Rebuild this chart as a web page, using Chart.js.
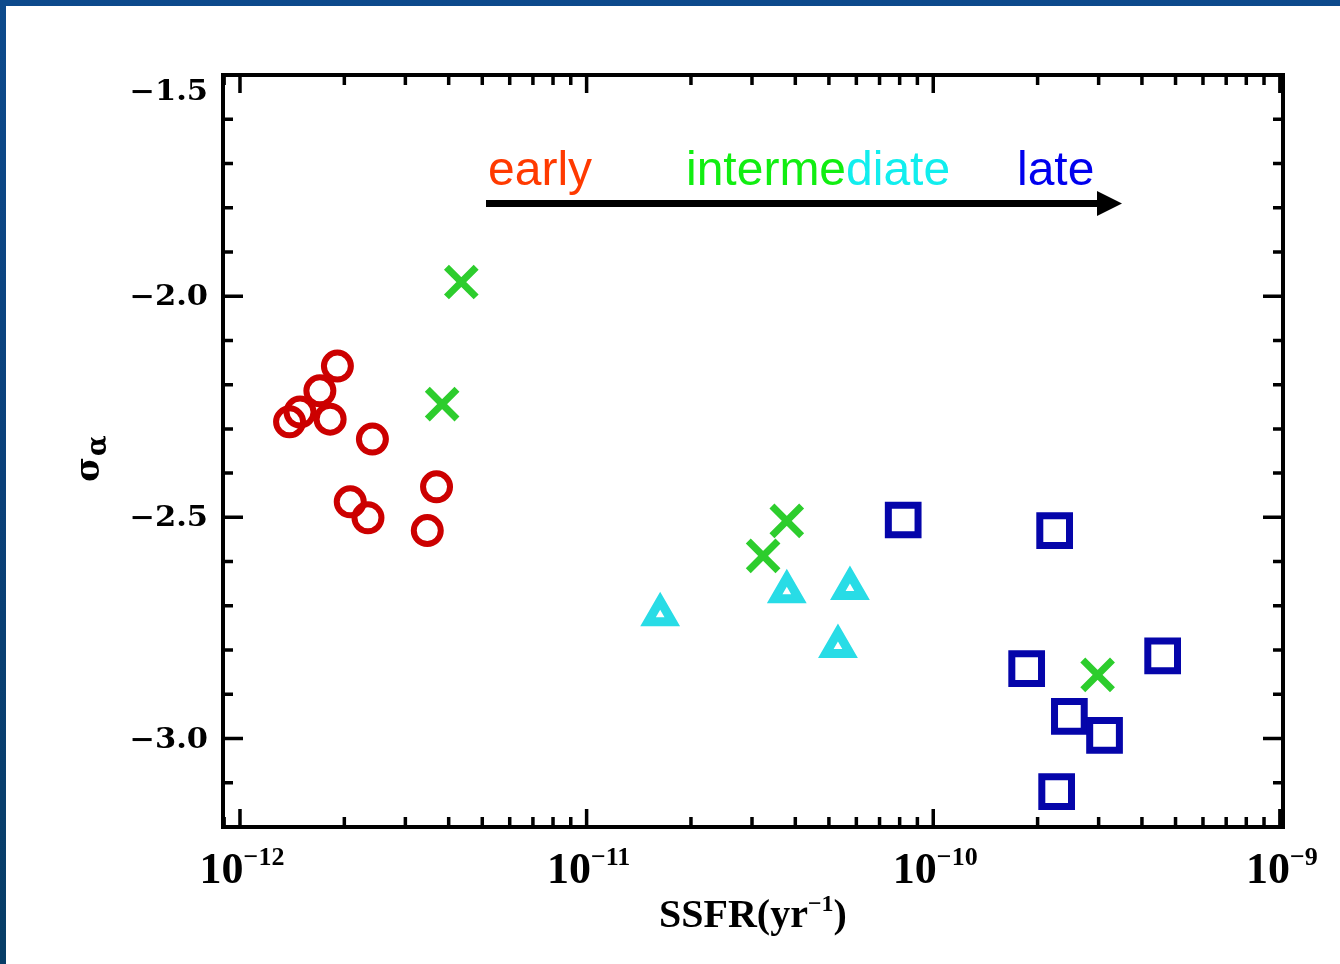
<!DOCTYPE html>
<html><head><meta charset="utf-8">
<script src="https://cdn.jsdelivr.net/npm/chart.js@4.4.1/dist/chart.umd.min.js"></script>
<style>
html,body{margin:0;padding:0;width:1340px;height:964px;overflow:hidden;}
body{background:linear-gradient(180deg,#0d4a8c 0%,#0a4079 50%,#073d66 100%);position:relative;}
#panel{position:absolute;left:6px;top:6px;right:0;bottom:0;background:#fff;}
#c{position:absolute;left:0;top:0;}
</style></head><body><div id="panel"></div><canvas id="c" width="1340" height="964"></canvas>
<script>
// ---- data ----
const earlySSFR  = [1.91e-12,1.70e-12,1.39e-12,1.49e-12,1.82e-12,2.41e-12,2.08e-12,2.34e-12,3.69e-12,3.47e-12];
const earlySigma = [-2.158,-2.214,-2.284,-2.262,-2.278,-2.323,-2.465,-2.501,-2.431,-2.530];
const interXSSFR  = [4.35e-12,3.83e-12,3.78e-11,3.23e-11,2.98e-10];
const interXSigma = [-1.968,-2.244,-2.508,-2.587,-2.856];
const interTriSSFR  = [1.63e-11,3.78e-11,5.75e-11,5.31e-11];
const interTriSigma = [-2.720,-2.668,-2.661,-2.792];
const lateSSFR  = [8.19e-11,2.24e-10,1.86e-10,4.59e-10,2.47e-10,3.12e-10,2.27e-10];
const lateSigma = [-2.506,-2.530,-2.842,-2.813,-2.950,-2.993,-3.120];

const xDecades = [-12,-11,-10,-9];              // labelled decades
const xMin = Math.pow(10,-12.049), xMax = Math.pow(10,-8.991);
const yMin = -3.2, yMax = -1.5, yStep = 0.1;
const yLabels = [-1.5,-2.0,-2.5,-3.0];

const pts = (xs, ys) => xs.map((x,i)=>({x:x, y:ys[i]}));

const framePlugin = {
  id:'frame',
  beforeDatasetsDraw(chart){
    const {ctx, chartArea:a, scales:{x, y}} = chart;
    ctx.save();
    ctx.strokeStyle='#000';
    ctx.lineWidth=4;
    ctx.strokeRect(a.left, a.top, a.right-a.left, a.bottom-a.top);
    ctx.lineWidth=3.5;
    ctx.beginPath();
    const n = Math.round((yMax-yMin)/yStep);
    for(let k=0;k<=n;k++){
      const v = yMin + k*yStep;
      const major = Math.abs(v*2 - Math.round(v*2))<1e-6;
      const py = y.getPixelForValue(v);
      const len = major?20:10;
      ctx.moveTo(a.left, py); ctx.lineTo(a.left+len, py);
      ctx.moveTo(a.right, py); ctx.lineTo(a.right-len, py);
    }
    for(const d of [-13,-12,-11,-10,-9]){
      for(let m=1;m<=9;m++){
        const v = m*Math.pow(10,d);
        if(v<xMin||v>xMax) continue;
        const px = x.getPixelForValue(v);
        const len = m===1?18:10;
        ctx.moveTo(px, a.bottom); ctx.lineTo(px, a.bottom-len);
        ctx.moveTo(px, a.top); ctx.lineTo(px, a.top+len);
      }
    }
    ctx.stroke();
    ctx.restore();
  },
  afterDraw(chart){
    const {ctx, chartArea:a, scales:{x, y}} = chart;
    ctx.save();
    ctx.fillStyle='#000';
    // y tick labels (wide, heavy)
    ctx.font='bold 27px "DejaVu Serif"';
    ctx.textAlign='right'; ctx.textBaseline='middle';
    for(const v of yLabels){
      let py = y.getPixelForValue(v);
      py = Math.max(py, a.top+16);
      ctx.save();
      ctx.translate(208, py+2);
      ctx.scale(1.13, 1);
      ctx.fillText('\u2212'+Math.abs(v).toFixed(1), 0, 0);
      ctx.restore();
    }
    // x tick labels 10^d
    ctx.textBaseline='alphabetic'; ctx.textAlign='left';
    const bigF='bold 44px "Liberation Serif"', supF='bold 26px "Liberation Serif"';
    for(const d of xDecades){
      const px = x.getPixelForValue(Math.pow(10,d));
      const sup = '\u2212'+Math.abs(d);
      ctx.font=bigF; const w1=ctx.measureText('10').width;
      ctx.font=supF; const w2=ctx.measureText(sup).width;
      const x0 = px - (w1+w2)/2 + 2;
      ctx.font=bigF; ctx.fillText('10', x0, 883);
      ctx.font=supF; ctx.fillText(sup, x0+w1, 865);
    }
    // x title
    {
      const t1='SSFR(yr', t2='\u22121', t3=')';
      const f1='bold 40px "Liberation Serif"', f2='bold 24px "Liberation Serif"';
      ctx.font=f1; const w1=ctx.measureText(t1).width, w3=ctx.measureText(t3).width;
      ctx.font=f2; const w2=ctx.measureText(t2).width;
      let x0 = 753 - (w1+w2+w3)/2;
      ctx.font=f1; ctx.fillText(t1, x0, 927);
      ctx.font=f2; ctx.fillText(t2, x0+w1, 911);
      ctx.font=f1; ctx.fillText(t3, x0+w1+w2, 927);
    }
    // y title (sigma with subscript alpha), rotated
    ctx.save();
    ctx.translate(99, 482);
    ctx.rotate(-Math.PI/2);
    ctx.font='bold 34px "DejaVu Serif"';
    ctx.fillText('\u03c3', 0, 0);
    const ws = ctx.measureText('\u03c3').width;
    ctx.font='bold 27px "DejaVu Serif"';
    ctx.fillText('\u03b1', ws+1, 7);
    ctx.restore();

    // annotation: early -> intermediate -> late
    ctx.font='48px "Liberation Sans"';
    ctx.textAlign='left'; ctx.textBaseline='alphabetic';
    ctx.fillStyle='#ff3a00'; ctx.fillText('early', 488, 185);
    ctx.fillStyle='#11ee11'; ctx.fillText('interme', 686, 185);
    const wi = ctx.measureText('interme').width;
    ctx.fillStyle='#11eeee'; ctx.fillText('diate', 686+wi, 185);
    ctx.fillStyle='#0000ee'; ctx.fillText('late', 1017, 185);
    ctx.fillStyle='#000';
    ctx.fillRect(486, 200, 614, 7);
    ctx.beginPath();
    ctx.moveTo(1097,191); ctx.lineTo(1122,203.5); ctx.lineTo(1097,216); ctx.closePath();
    ctx.fill();
    ctx.restore();
  }
};

new Chart(document.getElementById('c').getContext('2d'), {
  type:'scatter',
  data:{datasets:[
    {data:pts(earlySSFR,earlySigma), pointStyle:'circle', pointRadius:13.5, borderWidth:6,
     borderColor:'rgb(204,0,0)', backgroundColor:'rgba(0,0,0,0)'},
    {data:pts(interXSSFR,interXSigma), pointStyle:'crossRot', pointRadius:21, borderWidth:7,
     borderColor:'rgb(45,205,45)', backgroundColor:'rgba(0,0,0,0)'},
    {data:pts(interTriSSFR,interTriSigma), pointStyle:'triangle', pointRadius:14, borderWidth:9,
     borderColor:'rgb(40,220,230)', backgroundColor:'rgba(0,0,0,0)'},
    {data:pts(lateSSFR,lateSigma), pointStyle:'rect', pointRadius:21, borderWidth:7,
     borderColor:'rgb(5,5,170)', backgroundColor:'rgba(0,0,0,0)'}
  ]},
  options:{
    responsive:false, animation:false, events:[],
    layout:{padding:{left:0, top:75, right:57, bottom:0}},
    plugins:{legend:{display:false}, tooltip:{enabled:false}},
    scales:{
      x:{type:'logarithmic', min:xMin, max:xMax, grid:{display:false}, border:{display:false},
         ticks:{display:false}, afterFit(s){ s.height=137; }},
      y:{type:'linear', min:yMin, max:yMax, grid:{display:false}, border:{display:false},
         ticks:{display:false}, afterFit(s){ s.width=223; }}
    }
  },
  plugins:[framePlugin]
});
</script>
</body></html>
